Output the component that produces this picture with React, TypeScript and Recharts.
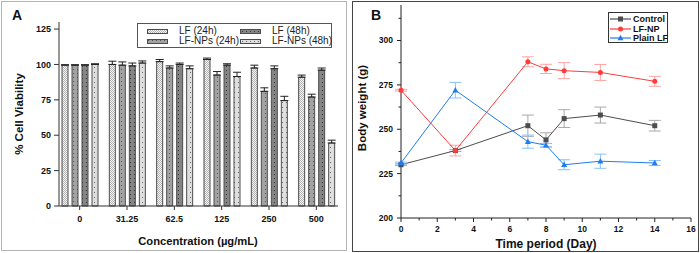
import React from "react";
import { BarChart, Bar, XAxis, YAxis, ErrorBar, LineChart, Line } from "recharts";

const FONT = '"Liberation Sans", Arial, sans-serif';

// Panel A: cell viability
const concentrations = ["0", "31.25", "62.5", "125", "250", "500"];
const lf24 = [99.5, 100, 102, 103.5, 97.5, 91];
const lfNp24 = [99.5, 99.5, 97.5, 92.5, 81, 77];
const lf48 = [99.5, 99, 100, 99.5, 97, 96];
const lfNp48 = [100, 101, 97, 91.5, 74.5, 44.5];
const lf24Err = [0.3, 2.3, 1.5, 1, 2, 1.5];
const lfNp24Err = [0.3, 2.3, 1.5, 2.5, 2.5, 2];
const lf48Err = [0.3, 2, 1, 1, 2, 1.5];
const lfNp48Err = [0.5, 1.5, 2, 3, 3, 2];
const viabilityTicks = [0, 25, 50, 75, 100, 125];

// Panel B: body weight
const days = [0, 3, 7, 8, 9, 11, 14];
const control = [230, 238, 252, 244, 256, 258, 252];
const controlErr = [0.5, 0.5, 6, 4, 5, 4.5, 3];
const lfNp = [272, 238, 288, 284, 283, 282, 277];
const lfNpErr = [0.5, 3, 2.8, 2.6, 4.5, 4.5, 2.8];
const plainLf = [231, 272, 243, 241, 230, 232, 231];
const plainLfErr = [0.5, 4.4, 3.7, 1, 2.8, 4, 1.4];
const dayTicks = [0, 1, 2, 3, 4, 5, 6, 7, 8, 9, 10, 11, 12, 13, 14, 15, 16];
const weightTicks = [200, 212.5, 225, 237.5, 250, 262.5, 275, 287.5, 300, 312.5];

const barData = concentrations.map((c, i) => ({
  conc: c,
  lf24: lf24[i],
  lfNp24: lfNp24[i],
  lf48: lf48[i],
  lfNp48: lfNp48[i],
  lf24Err: [0, lf24Err[i]],
  lfNp24Err: [0, lfNp24Err[i]],
  lf48Err: [0, lf48Err[i]],
  lfNp48Err: [0, lfNp48Err[i]],
}));

const lineData = days.map((d, i) => ({
  day: d,
  control: control[i],
  controlErr: controlErr[i],
  lfNp: lfNp[i],
  lfNpErr: lfNpErr[i],
  plainLf: plainLf[i],
  plainLfErr: plainLfErr[i],
}));

const GRAY = "#4d4d4d";
const RED = "#ff3b3b";
const BLUE = "#1f7cf2";

const barSeries = [
  { key: "lf24", err: "lf24Err", name: "LF (24h)", fill: "url(#pat-lf24)" },
  { key: "lfNp24", err: "lfNp24Err", name: "LF-NPs (24h)", fill: "url(#pat-np24)" },
  { key: "lf48", err: "lf48Err", name: "LF (48h)", fill: "url(#pat-lf48)" },
  { key: "lfNp48", err: "lfNp48Err", name: "LF-NPs (48h)", fill: "url(#pat-np48)" },
];

const squareDot = (color: string) => (p: any) => (
  <rect key={`s${p.index}`} x={p.cx - 2.5} y={p.cy - 2.5} width={5} height={5} fill={color} />
);
const circleDot = (color: string) => (p: any) => (
  <circle key={`c${p.index}`} cx={p.cx} cy={p.cy} r={2.5} fill={color} />
);
const triangleDot = (color: string) => (p: any) => (
  <polygon
    key={`t${p.index}`}
    points={`${p.cx},${p.cy - 3.2} ${p.cx - 3},${p.cy + 2.2} ${p.cx + 3},${p.cy + 2.2}`}
    fill={color}
  />
);

const DayTick = (props: any) => {
  const { x, y, payload } = props;
  const major = payload.value % 2 === 0;
  return (
    <g>
      <line x1={x} y1={y} x2={x} y2={y + (major ? 4 : 2.5)} stroke="#222" />
      {major && (
        <text x={x} y={y + 13.5} textAnchor="middle" fontSize={8.5} fontWeight="bold" fill="#111" fontFamily={FONT}>
          {payload.value}
        </text>
      )}
    </g>
  );
};

const WeightTick = (props: any) => {
  const { x, y, payload } = props;
  const major = payload.value % 25 === 0;
  return (
    <g>
      <line x1={x} y1={y} x2={x - (major ? 4 : 2.5)} y2={y} stroke="#222" />
      {major && (
        <text x={x - 8} y={y} dy="0.35em" textAnchor="end" fontSize={8.5} fontWeight="bold" fill="#111" fontFamily={FONT}>
          {payload.value}
        </text>
      )}
    </g>
  );
};

const abs = (left: number, top: number): React.CSSProperties => ({ position: "absolute", left, top });

const Title = ({ x, y, size, rotate, children }: any) => (
  <div
    style={{
      position: "absolute",
      left: x,
      top: y,
      transform: `translate(-50%, -50%)${rotate ? " rotate(-90deg)" : ""}`,
      whiteSpace: "nowrap",
      fontSize: size,
      fontWeight: "bold",
      color: "#111",
      fontFamily: FONT,
      lineHeight: 1,
    }}
  >
    {children}
  </div>
);

function Swatch({ fill }: { fill: string }) {
  return (
    <svg width={21} height={5} style={{ display: "block" }}>
      <rect x={0.5} y={0.5} width={20} height={4} fill={fill} stroke="#4d4d4d" />
    </svg>
  );
}

function LegendA() {
  const items = [
    { s: barSeries[0], x: 9, tx: 41, y: 5 },
    { s: barSeries[1], x: 9, tx: 41, y: 15 },
    { s: barSeries[2], x: 102, tx: 134, y: 5 },
    { s: barSeries[3], x: 102, tx: 134, y: 15 },
  ];
  return (
    <div style={{ ...abs(137, 23), width: 195, height: 25, border: "1px solid #555", background: "#fff", boxSizing: "border-box" }}>
      {items.map((it) => (
        <React.Fragment key={it.s.key}>
          <div style={abs(it.x, it.y)}>
            <Swatch fill={it.s.fill} />
          </div>
          <div style={{ ...abs(it.tx, it.y - 4), fontSize: 10, fontFamily: FONT, color: "#222", lineHeight: "12px", whiteSpace: "nowrap" }}>
            {it.s.name}
          </div>
        </React.Fragment>
      ))}
    </div>
  );
}

function LegendB() {
  const items = [
    { name: "Control", color: GRAY, shape: "square" },
    { name: "LF-NP", color: RED, shape: "circle" },
    { name: "Plain LF", color: BLUE, shape: "triangle" },
  ];
  return (
    <div style={{ ...abs(608, 12), width: 60, height: 31, border: "1px solid #333", background: "#fff", boxSizing: "border-box" }}>
      {items.map((it, i) => (
        <div key={it.name} style={{ ...abs(1, 1 + i * 9.7), display: "flex", alignItems: "center", height: 10 }}>
          <svg width={21} height={8}>
            <line x1={0} y1={4} x2={21} y2={4} stroke={it.color} strokeWidth={1.2} />
            {it.shape === "square" && <rect x={8} y={1.5} width={5} height={5} fill={it.color} />}
            {it.shape === "circle" && <circle cx={10.5} cy={4} r={2.5} fill={it.color} />}
            {it.shape === "triangle" && <polygon points="10.5,0.8 7.5,6.2 13.5,6.2" fill={it.color} />}
          </svg>
          <span style={{ fontSize: 9, fontWeight: "bold", fontFamily: FONT, color: "#111", marginLeft: 2, whiteSpace: "nowrap" }}>
            {it.name}
          </span>
        </div>
      ))}
    </div>
  );
}

export default function App() {
  return (
    <div style={{ position: "fixed", left: 0, top: 0, width: 700, height: 253, background: "#fff", fontFamily: FONT, overflow: "hidden" }}>
      {/* panel frames */}
      <div style={{ ...abs(1, 1), width: 346, height: 250, border: "1px solid #b5b5b5", boxSizing: "border-box" }} />
      <div style={{ ...abs(352, 1), width: 347, height: 251, border: "1px solid #444", boxSizing: "border-box" }} />

      {/* Panel A */}
      <div style={abs(0, 0)}>
        <BarChart
          width={347}
          height={253}
          data={barData}
          margin={{ top: 22, right: 9, bottom: 17, left: 19 }}
          barSize={6}
          barGap={4}
        >
          <defs>
            <pattern id="pat-lf24" width={2} height={2} patternUnits="userSpaceOnUse">
              <rect width={2} height={2} fill="#f4f4f4" />
              <rect width={1} height={1} fill="#b4b4b4" />
              <rect x={1} y={1} width={1} height={1} fill="#b4b4b4" />
            </pattern>
            <pattern id="pat-np24" width={4} height={4} patternUnits="userSpaceOnUse">
              <rect width={4} height={4} fill="#a2a2a2" />
              <rect x={1} y={1} width={1} height={1} fill="#555" />
            </pattern>
            <pattern id="pat-lf48" width={4} height={4} patternUnits="userSpaceOnUse">
              <rect width={4} height={4} fill="#858585" />
              <rect x={2} y={2} width={1} height={1} fill="#333" />
            </pattern>
            <pattern id="pat-np48" width={4} height={5} patternUnits="userSpaceOnUse">
              <rect width={4} height={5} fill="#dedede" />
              <rect x={2} y={2} width={1} height={1} fill="#6a6a6a" />
            </pattern>
          </defs>
          <XAxis
            dataKey="conc"
            height={30}
            padding={{ left: -3, right: -2 }}
            tickSize={4}
            tickMargin={6}
            axisLine={{ stroke: "#333" }}
            tickLine={{ stroke: "#333" }}
            tick={{ fontSize: 9, fontWeight: "bold", fill: "#111", fontFamily: FONT }}
          />
          <XAxis xAxisId="top" orientation="top" dataKey="conc" height={0} tick={false} tickLine={false} axisLine={{ stroke: "#333" }} />
          <YAxis
            domain={[0, 130]}
            ticks={viabilityTicks}
            width={40}
            tickSize={5}
            tickMargin={3}
            axisLine={{ stroke: "#333" }}
            tickLine={{ stroke: "#333" }}
            tick={{ fontSize: 9, fontWeight: "bold", fill: "#111", fontFamily: FONT }}
          />
          <YAxis yAxisId="right" orientation="right" width={0} tick={false} tickLine={false} axisLine={{ stroke: "#333" }} />
          {barSeries.map((s) => (
            <Bar key={s.key} dataKey={s.key} name={s.name} fill={s.fill} stroke="#4d4d4d" strokeWidth={1} isAnimationActive={false}>
              <ErrorBar dataKey={s.err} width={4} stroke="#222" strokeWidth={1} direction="y" />
            </Bar>
          ))}
        </BarChart>
      </div>
      <LegendA />
      <div style={{ ...abs(12, 7), fontSize: 14, fontWeight: "bold", fontFamily: FONT, color: "#111", lineHeight: "16px" }}>A</div>
      <Title x={20} y={114} size={11.5} rotate>% Cell Viability</Title>
      <Title x={198} y={242} size={11.2}>Concentration (µg/mL)</Title>

      {/* Panel B */}
      <div style={abs(353, 0)}>
        <LineChart width={345} height={253} data={lineData} margin={{ top: 5, right: 7, bottom: 10, left: 13 }}>
          <XAxis
            dataKey="day"
            type="number"
            domain={[0, 16]}
            ticks={dayTicks}
            interval={0}
            height={25}
            tickSize={0}
            tickMargin={0}
            tickLine={false}
            axisLine={{ stroke: "#222" }}
            tick={<DayTick />}
          />
          <XAxis xAxisId="top" orientation="top" dataKey="day" type="number" domain={[0, 16]} height={0} tick={false} tickLine={false} axisLine={{ stroke: "#222" }} />
          <YAxis
            domain={[200, 320]}
            ticks={weightTicks}
            interval={0}
            width={35}
            tickSize={0}
            tickMargin={0}
            tickLine={false}
            axisLine={{ stroke: "#222" }}
            tick={<WeightTick />}
          />
          <YAxis yAxisId="right" orientation="right" domain={[200, 320]} width={0} tick={false} tickLine={false} axisLine={{ stroke: "#222" }} />
          <Line dataKey="control" stroke={GRAY} strokeWidth={1} dot={squareDot(GRAY)} activeDot={false} isAnimationActive={false}>
            <ErrorBar dataKey="controlErr" width={6} stroke="#a8a8a8" strokeWidth={1} direction="y" />
          </Line>
          <Line dataKey="lfNp" stroke={RED} strokeWidth={1} dot={circleDot(RED)} activeDot={false} isAnimationActive={false}>
            <ErrorBar dataKey="lfNpErr" width={6} stroke="#ffa3a3" strokeWidth={1} direction="y" />
          </Line>
          <Line dataKey="plainLf" stroke={BLUE} strokeWidth={1} dot={triangleDot(BLUE)} activeDot={false} isAnimationActive={false}>
            <ErrorBar dataKey="plainLfErr" width={6} stroke="#86c2ff" strokeWidth={1} direction="y" />
          </Line>
        </LineChart>
      </div>
      <LegendB />
      <div style={{ ...abs(371, 7), fontSize: 14, fontWeight: "bold", fontFamily: FONT, color: "#111", lineHeight: "16px" }}>B</div>
      <Title x={363} y={108} size={11.5} rotate>Body weight (g)</Title>
      <Title x={546} y={244} size={12}>Time period (Day)</Title>
    </div>
  );
}
